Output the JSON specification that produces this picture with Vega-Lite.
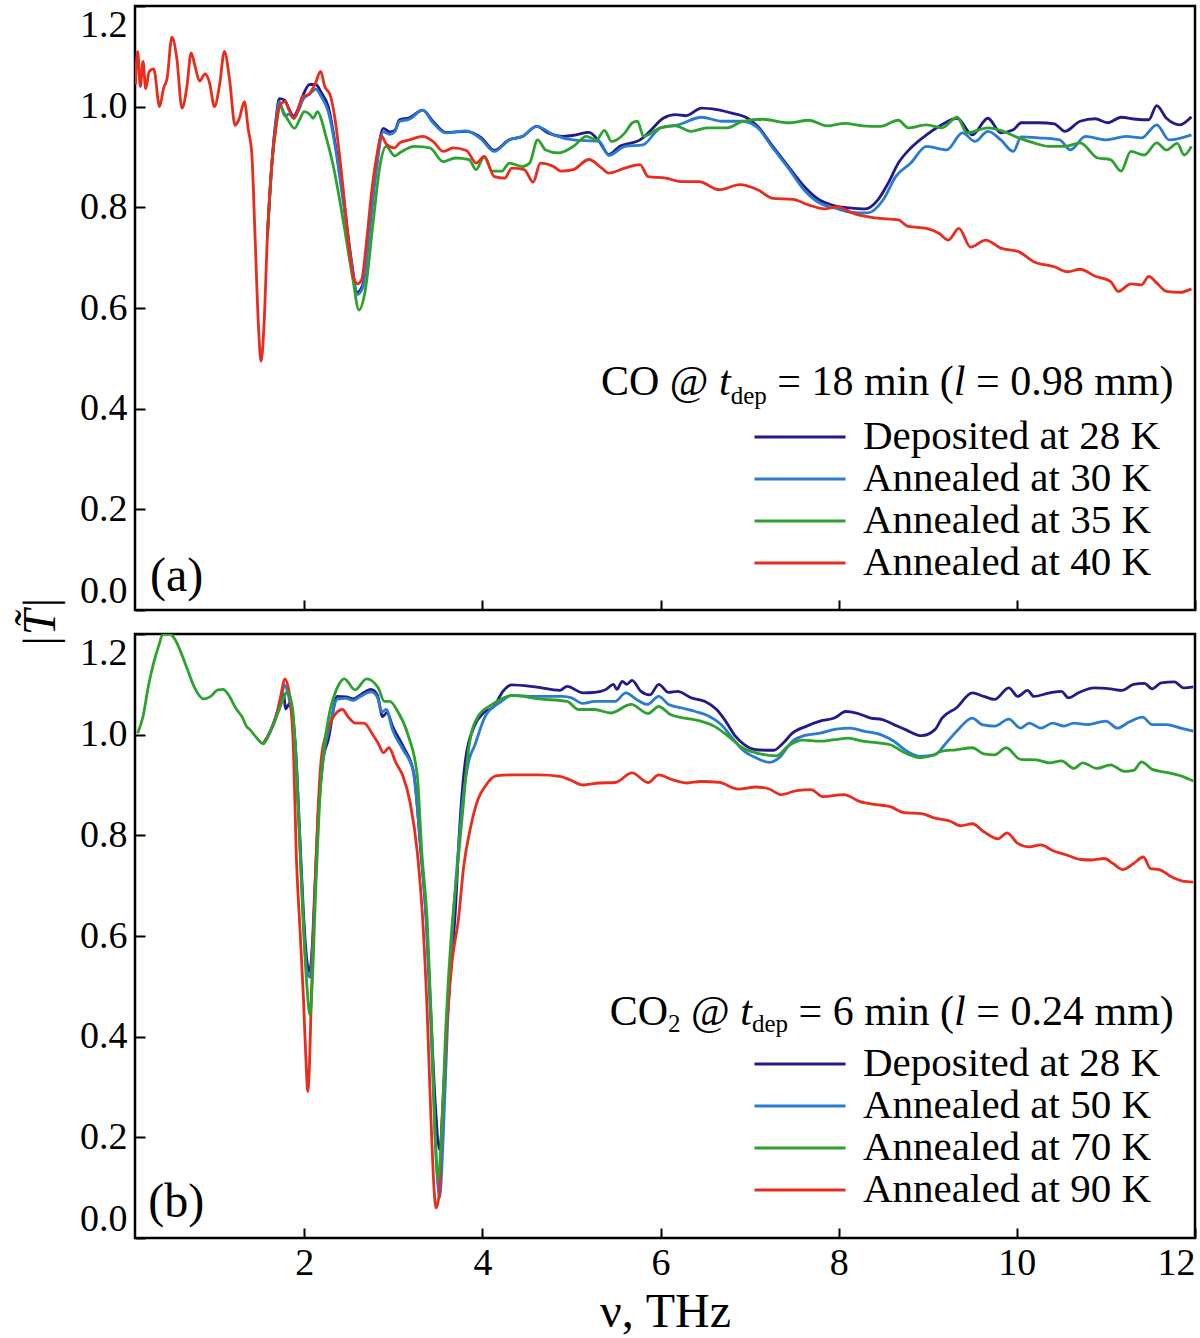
{
  "$schema": "https://vega.github.io/schema/vega-lite/v6.json",
  "padding": {"left": 15, "top": 3, "right": 4, "bottom": 0},
  "background": "white",
  "datasets": {
    "a28": [
      {"nu": 1.586, "T": 0.741}, {"nu": 1.635, "T": 0.883}, {"nu": 1.683, "T": 0.975}, {"nu": 1.72, "T": 1.016}, {"nu": 1.78, "T": 1.013}, {"nu": 1.83, "T": 0.995}, {"nu": 1.88, "T": 0.981}, {"nu": 1.93, "T": 0.995}, {"nu": 1.99, "T": 1.024}, {"nu": 2.06, "T": 1.044}, {"nu": 2.13, "T": 1.044}, {"nu": 2.19, "T": 1.028}, {"nu": 2.27, "T": 1.0}, {"nu": 2.344, "T": 0.93}, {"nu": 2.438, "T": 0.82}, {"nu": 2.53, "T": 0.694}, {"nu": 2.594, "T": 0.631}, {"nu": 2.655, "T": 0.645}, {"nu": 2.74, "T": 0.773}, {"nu": 2.81, "T": 0.883}, {"nu": 2.887, "T": 0.957}, {"nu": 2.96, "T": 0.95}, {"nu": 3.016, "T": 0.953}, {"nu": 3.07, "T": 0.974}, {"nu": 3.18, "T": 0.978}, {"nu": 3.33, "T": 0.993}, {"nu": 3.445, "T": 0.971}, {"nu": 3.587, "T": 0.949}, {"nu": 3.82, "T": 0.951}, {"nu": 3.99, "T": 0.938}, {"nu": 4.134, "T": 0.913}, {"nu": 4.3, "T": 0.934}, {"nu": 4.45, "T": 0.941}, {"nu": 4.61, "T": 0.961}, {"nu": 4.737, "T": 0.948}, {"nu": 4.91, "T": 0.941}, {"nu": 5.05, "T": 0.944}, {"nu": 5.196, "T": 0.949}, {"nu": 5.31, "T": 0.931}, {"nu": 5.42, "T": 0.905}, {"nu": 5.54, "T": 0.921}, {"nu": 5.77, "T": 0.934}, {"nu": 5.88, "T": 0.951}, {"nu": 6.03, "T": 0.977}, {"nu": 6.17, "T": 0.984}, {"nu": 6.285, "T": 0.982}, {"nu": 6.46, "T": 0.997}, {"nu": 6.63, "T": 0.994}, {"nu": 6.8, "T": 0.987}, {"nu": 6.976, "T": 0.977}, {"nu": 7.09, "T": 0.961}, {"nu": 7.26, "T": 0.921}, {"nu": 7.435, "T": 0.881}, {"nu": 7.61, "T": 0.842}, {"nu": 7.78, "T": 0.815}, {"nu": 7.955, "T": 0.803}, {"nu": 8.12, "T": 0.799}, {"nu": 8.3, "T": 0.797}, {"nu": 8.44, "T": 0.815}, {"nu": 8.555, "T": 0.848}, {"nu": 8.67, "T": 0.888}, {"nu": 8.81, "T": 0.918}, {"nu": 8.985, "T": 0.944}, {"nu": 9.13, "T": 0.961}, {"nu": 9.33, "T": 0.977}, {"nu": 9.5, "T": 0.944}, {"nu": 9.675, "T": 0.977}, {"nu": 9.82, "T": 0.948}, {"nu": 9.96, "T": 0.954}, {"nu": 10.05, "T": 0.968}, {"nu": 10.25, "T": 0.968}, {"nu": 10.42, "T": 0.966}, {"nu": 10.54, "T": 0.951}, {"nu": 10.71, "T": 0.971}, {"nu": 10.88, "T": 0.976}, {"nu": 11.02, "T": 0.968}, {"nu": 11.17, "T": 0.979}, {"nu": 11.34, "T": 0.975}, {"nu": 11.48, "T": 0.974}, {"nu": 11.57, "T": 1.002}, {"nu": 11.68, "T": 0.977}, {"nu": 11.83, "T": 0.964}, {"nu": 11.96, "T": 0.98}
    ],
    "a30": [
      {"nu": 1.586, "T": 0.741}, {"nu": 1.635, "T": 0.883}, {"nu": 1.683, "T": 0.97}, {"nu": 1.72, "T": 1.01}, {"nu": 1.78, "T": 0.982}, {"nu": 1.83, "T": 0.985}, {"nu": 1.88, "T": 0.977}, {"nu": 1.93, "T": 0.99}, {"nu": 1.99, "T": 1.015}, {"nu": 2.06, "T": 1.025}, {"nu": 2.13, "T": 1.035}, {"nu": 2.19, "T": 1.02}, {"nu": 2.27, "T": 0.99}, {"nu": 2.344, "T": 0.925}, {"nu": 2.438, "T": 0.81}, {"nu": 2.53, "T": 0.69}, {"nu": 2.594, "T": 0.627}, {"nu": 2.655, "T": 0.64}, {"nu": 2.74, "T": 0.765}, {"nu": 2.81, "T": 0.875}, {"nu": 2.887, "T": 0.95}, {"nu": 2.96, "T": 0.945}, {"nu": 3.016, "T": 0.95}, {"nu": 3.07, "T": 0.971}, {"nu": 3.18, "T": 0.975}, {"nu": 3.33, "T": 0.993}, {"nu": 3.445, "T": 0.968}, {"nu": 3.587, "T": 0.948}, {"nu": 3.82, "T": 0.952}, {"nu": 3.99, "T": 0.935}, {"nu": 4.134, "T": 0.911}, {"nu": 4.3, "T": 0.934}, {"nu": 4.45, "T": 0.941}, {"nu": 4.61, "T": 0.961}, {"nu": 4.8, "T": 0.944}, {"nu": 5.02, "T": 0.934}, {"nu": 5.31, "T": 0.931}, {"nu": 5.42, "T": 0.903}, {"nu": 5.6, "T": 0.921}, {"nu": 5.8, "T": 0.924}, {"nu": 6.0, "T": 0.958}, {"nu": 6.2, "T": 0.964}, {"nu": 6.46, "T": 0.979}, {"nu": 6.69, "T": 0.971}, {"nu": 6.92, "T": 0.971}, {"nu": 7.09, "T": 0.958}, {"nu": 7.26, "T": 0.918}, {"nu": 7.435, "T": 0.878}, {"nu": 7.61, "T": 0.835}, {"nu": 7.78, "T": 0.809}, {"nu": 7.955, "T": 0.799}, {"nu": 8.15, "T": 0.79}, {"nu": 8.33, "T": 0.789}, {"nu": 8.5, "T": 0.815}, {"nu": 8.64, "T": 0.861}, {"nu": 8.81, "T": 0.888}, {"nu": 8.985, "T": 0.921}, {"nu": 9.21, "T": 0.914}, {"nu": 9.39, "T": 0.948}, {"nu": 9.53, "T": 0.931}, {"nu": 9.675, "T": 0.951}, {"nu": 9.82, "T": 0.934}, {"nu": 9.96, "T": 0.911}, {"nu": 10.05, "T": 0.94}, {"nu": 10.25, "T": 0.938}, {"nu": 10.48, "T": 0.934}, {"nu": 10.6, "T": 0.914}, {"nu": 10.77, "T": 0.941}, {"nu": 11.0, "T": 0.934}, {"nu": 11.23, "T": 0.941}, {"nu": 11.4, "T": 0.938}, {"nu": 11.57, "T": 0.964}, {"nu": 11.71, "T": 0.934}, {"nu": 11.96, "T": 0.944}
    ],
    "a35": [
      {"nu": 1.586, "T": 0.741}, {"nu": 1.635, "T": 0.883}, {"nu": 1.683, "T": 0.96}, {"nu": 1.73, "T": 1.0}, {"nu": 1.78, "T": 0.985}, {"nu": 1.83, "T": 0.97}, {"nu": 1.89, "T": 0.957}, {"nu": 1.95, "T": 0.975}, {"nu": 2.0, "T": 0.99}, {"nu": 2.06, "T": 0.985}, {"nu": 2.1, "T": 0.977}, {"nu": 2.15, "T": 0.99}, {"nu": 2.2, "T": 0.97}, {"nu": 2.23, "T": 0.95}, {"nu": 2.325, "T": 0.883}, {"nu": 2.438, "T": 0.773}, {"nu": 2.546, "T": 0.657}, {"nu": 2.614, "T": 0.596}, {"nu": 2.68, "T": 0.63}, {"nu": 2.775, "T": 0.773}, {"nu": 2.85, "T": 0.883}, {"nu": 2.92, "T": 0.921}, {"nu": 3.016, "T": 0.902}, {"nu": 3.07, "T": 0.908}, {"nu": 3.24, "T": 0.921}, {"nu": 3.41, "T": 0.918}, {"nu": 3.56, "T": 0.891}, {"nu": 3.7, "T": 0.898}, {"nu": 3.85, "T": 0.895}, {"nu": 3.93, "T": 0.875}, {"nu": 4.02, "T": 0.901}, {"nu": 4.11, "T": 0.872}, {"nu": 4.22, "T": 0.872}, {"nu": 4.3, "T": 0.888}, {"nu": 4.45, "T": 0.881}, {"nu": 4.53, "T": 0.888}, {"nu": 4.62, "T": 0.934}, {"nu": 4.71, "T": 0.914}, {"nu": 4.855, "T": 0.908}, {"nu": 5.02, "T": 0.921}, {"nu": 5.17, "T": 0.941}, {"nu": 5.28, "T": 0.934}, {"nu": 5.37, "T": 0.953}, {"nu": 5.45, "T": 0.931}, {"nu": 5.6, "T": 0.948}, {"nu": 5.685, "T": 0.968}, {"nu": 5.74, "T": 0.971}, {"nu": 5.81, "T": 0.941}, {"nu": 6.0, "T": 0.958}, {"nu": 6.17, "T": 0.962}, {"nu": 6.34, "T": 0.951}, {"nu": 6.52, "T": 0.958}, {"nu": 6.75, "T": 0.958}, {"nu": 6.92, "T": 0.971}, {"nu": 7.15, "T": 0.975}, {"nu": 7.435, "T": 0.968}, {"nu": 7.665, "T": 0.973}, {"nu": 7.87, "T": 0.962}, {"nu": 8.07, "T": 0.967}, {"nu": 8.27, "T": 0.962}, {"nu": 8.47, "T": 0.961}, {"nu": 8.67, "T": 0.973}, {"nu": 8.78, "T": 0.958}, {"nu": 8.985, "T": 0.964}, {"nu": 9.16, "T": 0.958}, {"nu": 9.33, "T": 0.979}, {"nu": 9.44, "T": 0.948}, {"nu": 9.675, "T": 0.958}, {"nu": 9.85, "T": 0.951}, {"nu": 10.02, "T": 0.938}, {"nu": 10.19, "T": 0.928}, {"nu": 10.36, "T": 0.921}, {"nu": 10.54, "T": 0.921}, {"nu": 10.71, "T": 0.928}, {"nu": 10.91, "T": 0.898}, {"nu": 11.05, "T": 0.895}, {"nu": 11.17, "T": 0.872}, {"nu": 11.28, "T": 0.911}, {"nu": 11.43, "T": 0.904}, {"nu": 11.57, "T": 0.928}, {"nu": 11.68, "T": 0.914}, {"nu": 11.8, "T": 0.927}, {"nu": 11.88, "T": 0.904}, {"nu": 11.96, "T": 0.921}
    ],
    "a40": [
      {"nu": 0.105, "T": 1.044}, {"nu": 0.13, "T": 1.11}, {"nu": 0.16, "T": 1.04}, {"nu": 0.19, "T": 1.09}, {"nu": 0.22, "T": 1.036}, {"nu": 0.26, "T": 1.07}, {"nu": 0.31, "T": 1.075}, {"nu": 0.376, "T": 1.0}, {"nu": 0.42, "T": 1.036}, {"nu": 0.46, "T": 1.056}, {"nu": 0.515, "T": 1.138}, {"nu": 0.57, "T": 1.095}, {"nu": 0.627, "T": 0.997}, {"nu": 0.683, "T": 1.04}, {"nu": 0.73, "T": 1.107}, {"nu": 0.776, "T": 1.079}, {"nu": 0.824, "T": 1.051}, {"nu": 0.888, "T": 1.065}, {"nu": 0.936, "T": 1.048}, {"nu": 0.992, "T": 1.0}, {"nu": 1.05, "T": 1.044}, {"nu": 1.104, "T": 1.11}, {"nu": 1.16, "T": 1.056}, {"nu": 1.224, "T": 0.963}, {"nu": 1.272, "T": 0.977}, {"nu": 1.328, "T": 1.01}, {"nu": 1.373, "T": 0.953}, {"nu": 1.41, "T": 0.91}, {"nu": 1.448, "T": 0.741}, {"nu": 1.485, "T": 0.568}, {"nu": 1.515, "T": 0.494}, {"nu": 1.549, "T": 0.568}, {"nu": 1.586, "T": 0.741}, {"nu": 1.635, "T": 0.883}, {"nu": 1.683, "T": 0.961}, {"nu": 1.728, "T": 1.004}, {"nu": 1.784, "T": 1.01}, {"nu": 1.83, "T": 0.993}, {"nu": 1.885, "T": 0.977}, {"nu": 1.93, "T": 0.993}, {"nu": 1.98, "T": 1.02}, {"nu": 2.045, "T": 1.024}, {"nu": 2.12, "T": 1.044}, {"nu": 2.184, "T": 1.07}, {"nu": 2.23, "T": 1.04}, {"nu": 2.29, "T": 1.024}, {"nu": 2.344, "T": 0.977}, {"nu": 2.4, "T": 0.898}, {"nu": 2.456, "T": 0.804}, {"nu": 2.51, "T": 0.71}, {"nu": 2.557, "T": 0.659}, {"nu": 2.598, "T": 0.648}, {"nu": 2.643, "T": 0.655}, {"nu": 2.7, "T": 0.733}, {"nu": 2.755, "T": 0.828}, {"nu": 2.81, "T": 0.898}, {"nu": 2.867, "T": 0.942}, {"nu": 2.92, "T": 0.926}, {"nu": 3.016, "T": 0.918}, {"nu": 3.07, "T": 0.928}, {"nu": 3.18, "T": 0.934}, {"nu": 3.33, "T": 0.941}, {"nu": 3.445, "T": 0.931}, {"nu": 3.56, "T": 0.911}, {"nu": 3.67, "T": 0.918}, {"nu": 3.82, "T": 0.913}, {"nu": 3.93, "T": 0.888}, {"nu": 4.02, "T": 0.901}, {"nu": 4.134, "T": 0.861}, {"nu": 4.25, "T": 0.858}, {"nu": 4.33, "T": 0.878}, {"nu": 4.47, "T": 0.875}, {"nu": 4.57, "T": 0.85}, {"nu": 4.65, "T": 0.888}, {"nu": 4.8, "T": 0.881}, {"nu": 4.88, "T": 0.872}, {"nu": 5.02, "T": 0.875}, {"nu": 5.196, "T": 0.895}, {"nu": 5.34, "T": 0.878}, {"nu": 5.42, "T": 0.868}, {"nu": 5.6, "T": 0.878}, {"nu": 5.77, "T": 0.885}, {"nu": 5.86, "T": 0.861}, {"nu": 6.06, "T": 0.858}, {"nu": 6.23, "T": 0.851}, {"nu": 6.43, "T": 0.851}, {"nu": 6.66, "T": 0.835}, {"nu": 6.89, "T": 0.845}, {"nu": 7.09, "T": 0.835}, {"nu": 7.26, "T": 0.818}, {"nu": 7.49, "T": 0.816}, {"nu": 7.66, "T": 0.805}, {"nu": 7.84, "T": 0.797}, {"nu": 7.98, "T": 0.801}, {"nu": 8.18, "T": 0.787}, {"nu": 8.41, "T": 0.779}, {"nu": 8.67, "T": 0.775}, {"nu": 8.78, "T": 0.762}, {"nu": 8.985, "T": 0.758}, {"nu": 9.13, "T": 0.748}, {"nu": 9.23, "T": 0.735}, {"nu": 9.35, "T": 0.758}, {"nu": 9.48, "T": 0.721}, {"nu": 9.65, "T": 0.735}, {"nu": 9.82, "T": 0.719}, {"nu": 10.02, "T": 0.712}, {"nu": 10.19, "T": 0.692}, {"nu": 10.42, "T": 0.682}, {"nu": 10.57, "T": 0.672}, {"nu": 10.71, "T": 0.677}, {"nu": 10.88, "T": 0.663}, {"nu": 11.05, "T": 0.653}, {"nu": 11.14, "T": 0.633}, {"nu": 11.28, "T": 0.648}, {"nu": 11.4, "T": 0.646}, {"nu": 11.48, "T": 0.663}, {"nu": 11.57, "T": 0.65}, {"nu": 11.68, "T": 0.633}, {"nu": 11.83, "T": 0.631}, {"nu": 11.96, "T": 0.638}
    ],
    "b28": [
      {"nu": 1.54, "T": 0.982}, {"nu": 1.61, "T": 1.003}, {"nu": 1.69, "T": 1.04}, {"nu": 1.74, "T": 1.07}, {"nu": 1.77, "T": 1.08}, {"nu": 1.79, "T": 1.051}, {"nu": 1.84, "T": 1.063}, {"nu": 1.9, "T": 0.98}, {"nu": 1.95, "T": 0.8}, {"nu": 1.99, "T": 0.65}, {"nu": 2.03, "T": 0.55}, {"nu": 2.06, "T": 0.529}, {"nu": 2.09, "T": 0.58}, {"nu": 2.12, "T": 0.7}, {"nu": 2.16, "T": 0.85}, {"nu": 2.21, "T": 0.95}, {"nu": 2.27, "T": 0.99}, {"nu": 2.37, "T": 1.076}, {"nu": 2.47, "T": 1.075}, {"nu": 2.55, "T": 1.071}, {"nu": 2.63, "T": 1.079}, {"nu": 2.75, "T": 1.09}, {"nu": 2.82, "T": 1.079}, {"nu": 2.88, "T": 1.036}, {"nu": 2.93, "T": 1.044}, {"nu": 2.99, "T": 1.017}, {"nu": 3.11, "T": 0.977}, {"nu": 3.23, "T": 0.924}, {"nu": 3.31, "T": 0.765}, {"nu": 3.37, "T": 0.632}, {"nu": 3.42, "T": 0.45}, {"nu": 3.47, "T": 0.27}, {"nu": 3.52, "T": 0.175}, {"nu": 3.56, "T": 0.27}, {"nu": 3.6, "T": 0.42}, {"nu": 3.65, "T": 0.55}, {"nu": 3.69, "T": 0.632}, {"nu": 3.75, "T": 0.831}, {"nu": 3.81, "T": 0.95}, {"nu": 3.91, "T": 1.017}, {"nu": 4.01, "T": 1.043}, {"nu": 4.13, "T": 1.056}, {"nu": 4.23, "T": 1.086}, {"nu": 4.33, "T": 1.099}, {"nu": 4.59, "T": 1.095}, {"nu": 4.87, "T": 1.088}, {"nu": 4.95, "T": 1.096}, {"nu": 5.13, "T": 1.083}, {"nu": 5.26, "T": 1.084}, {"nu": 5.39, "T": 1.09}, {"nu": 5.47, "T": 1.1}, {"nu": 5.51, "T": 1.09}, {"nu": 5.57, "T": 1.106}, {"nu": 5.62, "T": 1.1}, {"nu": 5.68, "T": 1.108}, {"nu": 5.78, "T": 1.086}, {"nu": 5.88, "T": 1.079}, {"nu": 5.98, "T": 1.1}, {"nu": 6.09, "T": 1.084}, {"nu": 6.19, "T": 1.086}, {"nu": 6.345, "T": 1.073}, {"nu": 6.5, "T": 1.066}, {"nu": 6.63, "T": 1.05}, {"nu": 6.73, "T": 1.027}, {"nu": 6.84, "T": 0.997}, {"nu": 6.94, "T": 0.98}, {"nu": 7.07, "T": 0.97}, {"nu": 7.27, "T": 0.969}, {"nu": 7.38, "T": 0.984}, {"nu": 7.48, "T": 1.003}, {"nu": 7.64, "T": 1.017}, {"nu": 7.79, "T": 1.027}, {"nu": 7.95, "T": 1.033}, {"nu": 8.08, "T": 1.046}, {"nu": 8.2, "T": 1.043}, {"nu": 8.36, "T": 1.033}, {"nu": 8.49, "T": 1.03}, {"nu": 8.62, "T": 1.02}, {"nu": 8.75, "T": 1.01}, {"nu": 8.93, "T": 0.998}, {"nu": 9.08, "T": 1.01}, {"nu": 9.16, "T": 1.033}, {"nu": 9.32, "T": 1.053}, {"nu": 9.5, "T": 1.083}, {"nu": 9.63, "T": 1.076}, {"nu": 9.75, "T": 1.07}, {"nu": 9.91, "T": 1.093}, {"nu": 10.01, "T": 1.076}, {"nu": 10.12, "T": 1.088}, {"nu": 10.19, "T": 1.076}, {"nu": 10.37, "T": 1.083}, {"nu": 10.5, "T": 1.086}, {"nu": 10.58, "T": 1.073}, {"nu": 10.69, "T": 1.083}, {"nu": 10.87, "T": 1.093}, {"nu": 11.05, "T": 1.091}, {"nu": 11.18, "T": 1.088}, {"nu": 11.31, "T": 1.1}, {"nu": 11.43, "T": 1.102}, {"nu": 11.52, "T": 1.091}, {"nu": 11.62, "T": 1.103}, {"nu": 11.77, "T": 1.105}, {"nu": 11.87, "T": 1.093}, {"nu": 11.98, "T": 1.095}
    ],
    "b50": [
      {"nu": 1.54, "T": 0.982}, {"nu": 1.61, "T": 1.003}, {"nu": 1.69, "T": 1.04}, {"nu": 1.75, "T": 1.08}, {"nu": 1.78, "T": 1.099}, {"nu": 1.82, "T": 1.08}, {"nu": 1.86, "T": 1.04}, {"nu": 1.9, "T": 0.98}, {"nu": 1.95, "T": 0.79}, {"nu": 1.99, "T": 0.63}, {"nu": 2.03, "T": 0.53}, {"nu": 2.065, "T": 0.518}, {"nu": 2.1, "T": 0.6}, {"nu": 2.13, "T": 0.72}, {"nu": 2.17, "T": 0.87}, {"nu": 2.22, "T": 0.96}, {"nu": 2.29, "T": 1.02}, {"nu": 2.37, "T": 1.07}, {"nu": 2.47, "T": 1.072}, {"nu": 2.55, "T": 1.068}, {"nu": 2.63, "T": 1.076}, {"nu": 2.75, "T": 1.085}, {"nu": 2.82, "T": 1.075}, {"nu": 2.87, "T": 1.045}, {"nu": 2.92, "T": 1.05}, {"nu": 2.99, "T": 1.01}, {"nu": 3.11, "T": 0.97}, {"nu": 3.22, "T": 0.93}, {"nu": 3.31, "T": 0.77}, {"nu": 3.37, "T": 0.63}, {"nu": 3.42, "T": 0.43}, {"nu": 3.47, "T": 0.2}, {"nu": 3.52, "T": 0.08}, {"nu": 3.56, "T": 0.2}, {"nu": 3.61, "T": 0.43}, {"nu": 3.66, "T": 0.6}, {"nu": 3.72, "T": 0.75}, {"nu": 3.78, "T": 0.87}, {"nu": 3.85, "T": 0.95}, {"nu": 3.91, "T": 0.977}, {"nu": 4.03, "T": 1.036}, {"nu": 4.19, "T": 1.063}, {"nu": 4.33, "T": 1.078}, {"nu": 4.59, "T": 1.076}, {"nu": 4.9, "T": 1.076}, {"nu": 5.0, "T": 1.073}, {"nu": 5.13, "T": 1.062}, {"nu": 5.26, "T": 1.066}, {"nu": 5.49, "T": 1.066}, {"nu": 5.61, "T": 1.083}, {"nu": 5.73, "T": 1.07}, {"nu": 5.85, "T": 1.06}, {"nu": 5.98, "T": 1.076}, {"nu": 6.09, "T": 1.06}, {"nu": 6.24, "T": 1.053}, {"nu": 6.39, "T": 1.046}, {"nu": 6.55, "T": 1.036}, {"nu": 6.68, "T": 1.02}, {"nu": 6.79, "T": 0.997}, {"nu": 6.92, "T": 0.97}, {"nu": 7.07, "T": 0.954}, {"nu": 7.22, "T": 0.945}, {"nu": 7.33, "T": 0.954}, {"nu": 7.48, "T": 0.987}, {"nu": 7.61, "T": 0.998}, {"nu": 7.79, "T": 1.003}, {"nu": 7.97, "T": 1.011}, {"nu": 8.13, "T": 1.013}, {"nu": 8.28, "T": 1.007}, {"nu": 8.47, "T": 1.0}, {"nu": 8.62, "T": 0.987}, {"nu": 8.75, "T": 0.969}, {"nu": 8.91, "T": 0.957}, {"nu": 9.08, "T": 0.96}, {"nu": 9.19, "T": 0.98}, {"nu": 9.34, "T": 1.01}, {"nu": 9.5, "T": 1.033}, {"nu": 9.61, "T": 1.02}, {"nu": 9.75, "T": 1.017}, {"nu": 9.91, "T": 1.031}, {"nu": 10.04, "T": 1.013}, {"nu": 10.14, "T": 1.023}, {"nu": 10.27, "T": 1.013}, {"nu": 10.4, "T": 1.023}, {"nu": 10.53, "T": 1.017}, {"nu": 10.64, "T": 1.023}, {"nu": 10.79, "T": 1.02}, {"nu": 11.0, "T": 1.027}, {"nu": 11.13, "T": 1.013}, {"nu": 11.26, "T": 1.025}, {"nu": 11.41, "T": 1.035}, {"nu": 11.52, "T": 1.02}, {"nu": 11.68, "T": 1.02}, {"nu": 11.84, "T": 1.013}, {"nu": 11.98, "T": 1.007}
    ],
    "b70": [
      {"nu": 0.13, "T": 1.003}, {"nu": 0.19, "T": 1.036}, {"nu": 0.25, "T": 1.096}, {"nu": 0.31, "T": 1.143}, {"nu": 0.37, "T": 1.179}, {"nu": 0.41, "T": 1.199}, {"nu": 0.49, "T": 1.2}, {"nu": 0.55, "T": 1.189}, {"nu": 0.61, "T": 1.166}, {"nu": 0.69, "T": 1.129}, {"nu": 0.77, "T": 1.093}, {"nu": 0.87, "T": 1.071}, {"nu": 0.95, "T": 1.076}, {"nu": 1.03, "T": 1.089}, {"nu": 1.09, "T": 1.09}, {"nu": 1.15, "T": 1.079}, {"nu": 1.23, "T": 1.053}, {"nu": 1.31, "T": 1.033}, {"nu": 1.35, "T": 1.017}, {"nu": 1.39, "T": 1.01}, {"nu": 1.45, "T": 0.997}, {"nu": 1.54, "T": 0.982}, {"nu": 1.61, "T": 1.003}, {"nu": 1.69, "T": 1.036}, {"nu": 1.77, "T": 1.073}, {"nu": 1.81, "T": 1.086}, {"nu": 1.87, "T": 1.05}, {"nu": 1.91, "T": 0.93}, {"nu": 1.95, "T": 0.78}, {"nu": 1.99, "T": 0.62}, {"nu": 2.03, "T": 0.5}, {"nu": 2.065, "T": 0.443}, {"nu": 2.1, "T": 0.55}, {"nu": 2.13, "T": 0.7}, {"nu": 2.17, "T": 0.86}, {"nu": 2.22, "T": 0.97}, {"nu": 2.28, "T": 1.04}, {"nu": 2.37, "T": 1.093}, {"nu": 2.45, "T": 1.111}, {"nu": 2.57, "T": 1.089}, {"nu": 2.7, "T": 1.111}, {"nu": 2.83, "T": 1.093}, {"nu": 2.9, "T": 1.066}, {"nu": 2.96, "T": 1.066}, {"nu": 3.05, "T": 1.046}, {"nu": 3.17, "T": 0.997}, {"nu": 3.27, "T": 0.917}, {"nu": 3.32, "T": 0.765}, {"nu": 3.38, "T": 0.632}, {"nu": 3.43, "T": 0.42}, {"nu": 3.47, "T": 0.2}, {"nu": 3.5, "T": 0.117}, {"nu": 3.54, "T": 0.2}, {"nu": 3.59, "T": 0.42}, {"nu": 3.65, "T": 0.6}, {"nu": 3.7, "T": 0.7}, {"nu": 3.77, "T": 0.831}, {"nu": 3.85, "T": 0.977}, {"nu": 3.95, "T": 1.036}, {"nu": 4.11, "T": 1.06}, {"nu": 4.33, "T": 1.078}, {"nu": 4.64, "T": 1.071}, {"nu": 4.95, "T": 1.066}, {"nu": 5.08, "T": 1.05}, {"nu": 5.26, "T": 1.05}, {"nu": 5.44, "T": 1.043}, {"nu": 5.67, "T": 1.06}, {"nu": 5.86, "T": 1.042}, {"nu": 5.98, "T": 1.056}, {"nu": 6.11, "T": 1.04}, {"nu": 6.27, "T": 1.033}, {"nu": 6.45, "T": 1.027}, {"nu": 6.6, "T": 1.017}, {"nu": 6.76, "T": 0.997}, {"nu": 6.92, "T": 0.974}, {"nu": 7.07, "T": 0.964}, {"nu": 7.3, "T": 0.958}, {"nu": 7.43, "T": 0.977}, {"nu": 7.59, "T": 0.989}, {"nu": 7.79, "T": 0.987}, {"nu": 7.95, "T": 0.99}, {"nu": 8.11, "T": 0.993}, {"nu": 8.27, "T": 0.987}, {"nu": 8.42, "T": 0.984}, {"nu": 8.58, "T": 0.98}, {"nu": 8.71, "T": 0.967}, {"nu": 8.91, "T": 0.954}, {"nu": 9.07, "T": 0.96}, {"nu": 9.15, "T": 0.967}, {"nu": 9.32, "T": 0.97}, {"nu": 9.5, "T": 0.974}, {"nu": 9.63, "T": 0.962}, {"nu": 9.75, "T": 0.96}, {"nu": 9.88, "T": 0.974}, {"nu": 10.04, "T": 0.951}, {"nu": 10.22, "T": 0.95}, {"nu": 10.37, "T": 0.944}, {"nu": 10.5, "T": 0.948}, {"nu": 10.64, "T": 0.933}, {"nu": 10.74, "T": 0.944}, {"nu": 10.9, "T": 0.933}, {"nu": 11.05, "T": 0.94}, {"nu": 11.21, "T": 0.927}, {"nu": 11.31, "T": 0.929}, {"nu": 11.4, "T": 0.946}, {"nu": 11.52, "T": 0.931}, {"nu": 11.68, "T": 0.925}, {"nu": 11.84, "T": 0.918}, {"nu": 11.98, "T": 0.908}
    ],
    "b90": [
      {"nu": 1.54, "T": 0.982}, {"nu": 1.61, "T": 1.003}, {"nu": 1.69, "T": 1.04}, {"nu": 1.74, "T": 1.08}, {"nu": 1.78, "T": 1.111}, {"nu": 1.83, "T": 1.086}, {"nu": 1.88, "T": 0.964}, {"nu": 1.91, "T": 0.765}, {"nu": 1.95, "T": 0.62}, {"nu": 1.99, "T": 0.48}, {"nu": 2.02, "T": 0.35}, {"nu": 2.04, "T": 0.291}, {"nu": 2.06, "T": 0.35}, {"nu": 2.08, "T": 0.48}, {"nu": 2.11, "T": 0.632}, {"nu": 2.15, "T": 0.831}, {"nu": 2.19, "T": 0.95}, {"nu": 2.25, "T": 1.004}, {"nu": 2.33, "T": 1.036}, {"nu": 2.43, "T": 1.05}, {"nu": 2.49, "T": 1.036}, {"nu": 2.57, "T": 1.023}, {"nu": 2.67, "T": 1.023}, {"nu": 2.77, "T": 1.0}, {"nu": 2.83, "T": 0.983}, {"nu": 2.89, "T": 0.964}, {"nu": 2.95, "T": 0.974}, {"nu": 3.03, "T": 0.944}, {"nu": 3.11, "T": 0.917}, {"nu": 3.19, "T": 0.864}, {"nu": 3.27, "T": 0.765}, {"nu": 3.33, "T": 0.632}, {"nu": 3.38, "T": 0.45}, {"nu": 3.42, "T": 0.25}, {"nu": 3.46, "T": 0.09}, {"nu": 3.48, "T": 0.06}, {"nu": 3.51, "T": 0.08}, {"nu": 3.55, "T": 0.25}, {"nu": 3.6, "T": 0.42}, {"nu": 3.66, "T": 0.55}, {"nu": 3.73, "T": 0.632}, {"nu": 3.79, "T": 0.738}, {"nu": 3.87, "T": 0.818}, {"nu": 3.95, "T": 0.871}, {"nu": 4.03, "T": 0.897}, {"nu": 4.15, "T": 0.918}, {"nu": 4.33, "T": 0.92}, {"nu": 4.64, "T": 0.92}, {"nu": 4.87, "T": 0.917}, {"nu": 5.0, "T": 0.909}, {"nu": 5.13, "T": 0.9}, {"nu": 5.31, "T": 0.904}, {"nu": 5.49, "T": 0.905}, {"nu": 5.68, "T": 0.924}, {"nu": 5.86, "T": 0.905}, {"nu": 5.98, "T": 0.92}, {"nu": 6.14, "T": 0.91}, {"nu": 6.3, "T": 0.904}, {"nu": 6.45, "T": 0.907}, {"nu": 6.66, "T": 0.905}, {"nu": 6.87, "T": 0.892}, {"nu": 7.07, "T": 0.896}, {"nu": 7.22, "T": 0.892}, {"nu": 7.35, "T": 0.881}, {"nu": 7.53, "T": 0.889}, {"nu": 7.69, "T": 0.891}, {"nu": 7.82, "T": 0.877}, {"nu": 8.06, "T": 0.881}, {"nu": 8.24, "T": 0.867}, {"nu": 8.42, "T": 0.861}, {"nu": 8.58, "T": 0.857}, {"nu": 8.73, "T": 0.845}, {"nu": 8.93, "T": 0.843}, {"nu": 9.08, "T": 0.834}, {"nu": 9.24, "T": 0.829}, {"nu": 9.37, "T": 0.819}, {"nu": 9.5, "T": 0.823}, {"nu": 9.63, "T": 0.807}, {"nu": 9.79, "T": 0.793}, {"nu": 9.89, "T": 0.805}, {"nu": 10.01, "T": 0.784}, {"nu": 10.14, "T": 0.777}, {"nu": 10.27, "T": 0.781}, {"nu": 10.4, "T": 0.77}, {"nu": 10.56, "T": 0.761}, {"nu": 10.72, "T": 0.752}, {"nu": 10.85, "T": 0.751}, {"nu": 10.98, "T": 0.754}, {"nu": 11.08, "T": 0.744}, {"nu": 11.19, "T": 0.732}, {"nu": 11.31, "T": 0.744}, {"nu": 11.42, "T": 0.757}, {"nu": 11.5, "T": 0.734}, {"nu": 11.6, "T": 0.732}, {"nu": 11.73, "T": 0.718}, {"nu": 11.86, "T": 0.709}, {"nu": 11.98, "T": 0.707}
    ]
  },
  "vconcat": [
    {
      "width": 1060,
      "height": 604,
      "layer": [
        {
          "data": {"name": "a28"},
          "mark": {"type": "line", "strokeWidth": 2.8, "clip": true, "interpolate": "monotone"},
          "encoding": {
            "x": {"field": "nu", "type": "quantitative", "scale": {"domain": [0.1, 12], "nice": false, "zero": false},
                  "axis": {"values": [2, 4, 6, 8, 10, 12], "format": "d", "labels": false, "title": null}},
            "y": {"field": "T", "type": "quantitative", "scale": {"domain": [0, 1.2], "nice": false},
                  "axis": {"values": [0, 0.2, 0.4, 0.6, 0.8, 1.0, 1.2], "format": ".1f",
                           "title": "|T\u0303|", "titleFontSize": 46, "titleFontStyle": "italic",
                           "titleAngle": 270, "titleX": -95, "titleY": 616, "titleAlign": "center", "titleBaseline": "middle"}},
            "color": {"datum": "Deposited at 28 K", "type": "nominal",
                      "scale": {"domain": ["Deposited at 28 K", "Annealed at 30 K", "Annealed at 35 K", "Annealed at 40 K"],
                                "range": ["#231b8a", "#2a7cd0", "#2ea22e", "#eb2b1c"]},
                      "legend": {"orient": "none", "legendX": 618, "legendY": 411, "title": null}}
          }
        },
        {
          "data": {"name": "a30"},
          "mark": {"type": "line", "strokeWidth": 2.8, "clip": true, "interpolate": "monotone"},
          "encoding": {"x": {"field": "nu", "type": "quantitative"}, "y": {"field": "T", "type": "quantitative"},
                       "color": {"datum": "Annealed at 30 K", "type": "nominal"}}
        },
        {
          "data": {"name": "a35"},
          "mark": {"type": "line", "strokeWidth": 2.8, "clip": true, "interpolate": "monotone"},
          "encoding": {"x": {"field": "nu", "type": "quantitative"}, "y": {"field": "T", "type": "quantitative"},
                       "color": {"datum": "Annealed at 35 K", "type": "nominal"}}
        },
        {
          "data": {"name": "a40"},
          "mark": {"type": "line", "strokeWidth": 2.8, "clip": true, "interpolate": "monotone"},
          "encoding": {"x": {"field": "nu", "type": "quantitative"}, "y": {"field": "T", "type": "quantitative"},
                       "color": {"datum": "Annealed at 40 K", "type": "nominal"}}
        },
        {
          "data": {"values": [{"label": "(a)"}]},
          "mark": {"type": "text", "fontSize": 48, "align": "left", "baseline": "middle"},
          "encoding": {"x": {"datum": 0.268}, "y": {"datum": 0.066}, "text": {"field": "label"}}
        },
        {
          "data": {"values": [{"label": "CO @"}]},
          "mark": {"type": "text", "fontSize": 42, "align": "left", "baseline": "middle"},
          "encoding": {"x": {"datum": 5.331}, "y": {"datum": 0.453}, "text": {"field": "label"}}
        },
        {
          "data": {"values": [{"label": "t"}]},
          "mark": {"type": "text", "fontSize": 42, "fontStyle": "italic", "align": "left", "baseline": "middle", "dx": 118},
          "encoding": {"x": {"datum": 5.331}, "y": {"datum": 0.453}, "text": {"field": "label"}}
        },
        {
          "data": {"values": [{"label": "dep"}]},
          "mark": {"type": "text", "fontSize": 25, "align": "left", "baseline": "middle", "dx": 129.7, "dy": 14},
          "encoding": {"x": {"datum": 5.331}, "y": {"datum": 0.453}, "text": {"field": "label"}}
        },
        {
          "data": {"values": [{"label": "= 18 min ("}]},
          "mark": {"type": "text", "fontSize": 42, "align": "left", "baseline": "middle", "dx": 176.3},
          "encoding": {"x": {"datum": 5.331}, "y": {"datum": 0.453}, "text": {"field": "label"}}
        },
        {
          "data": {"values": [{"label": "l"}]},
          "mark": {"type": "text", "fontSize": 42, "fontStyle": "italic", "align": "left", "baseline": "middle", "dx": 352.8},
          "encoding": {"x": {"datum": 5.331}, "y": {"datum": 0.453}, "text": {"field": "label"}}
        },
        {
          "data": {"values": [{"label": "= 0.98 mm)"}]},
          "mark": {"type": "text", "fontSize": 42, "align": "left", "baseline": "middle", "dx": 375},
          "encoding": {"x": {"datum": 5.331}, "y": {"datum": 0.453}, "text": {"field": "label"}}
        }
      ]
    },
    {
      "width": 1060,
      "height": 604,
      "layer": [
        {
          "data": {"name": "b28"},
          "mark": {"type": "line", "strokeWidth": 2.8, "clip": true, "interpolate": "monotone"},
          "encoding": {
            "x": {"field": "nu", "type": "quantitative", "scale": {"domain": [0.1, 12], "nice": false, "zero": false},
                  "axis": {"values": [2, 4, 6, 8, 10, 12], "format": "d", "title": "\u03bd, THz", "titleFontSize": 48, "titlePadding": 6}},
            "y": {"field": "T", "type": "quantitative", "scale": {"domain": [0, 1.2], "nice": false},
                  "axis": {"values": [0, 0.2, 0.4, 0.6, 0.8, 1.0, 1.2], "format": ".1f", "title": null}},
            "color": {"datum": "Deposited at 28 K", "type": "nominal",
                      "scale": {"domain": ["Deposited at 28 K", "Annealed at 50 K", "Annealed at 70 K", "Annealed at 90 K"],
                                "range": ["#231b8a", "#2a7cd0", "#2ea22e", "#eb2b1c"]},
                      "legend": {"orient": "none", "legendX": 618, "legendY": 410, "title": null}}
          }
        },
        {
          "data": {"name": "b50"},
          "mark": {"type": "line", "strokeWidth": 2.8, "clip": true, "interpolate": "monotone"},
          "encoding": {"x": {"field": "nu", "type": "quantitative"}, "y": {"field": "T", "type": "quantitative"},
                       "color": {"datum": "Annealed at 50 K", "type": "nominal"}}
        },
        {
          "data": {"name": "b90"},
          "mark": {"type": "line", "strokeWidth": 2.8, "clip": true, "interpolate": "monotone"},
          "encoding": {"x": {"field": "nu", "type": "quantitative"}, "y": {"field": "T", "type": "quantitative"},
                       "color": {"datum": "Annealed at 90 K", "type": "nominal"}}
        },
        {
          "data": {"name": "b70"},
          "mark": {"type": "line", "strokeWidth": 2.8, "clip": true, "interpolate": "monotone"},
          "encoding": {"x": {"field": "nu", "type": "quantitative"}, "y": {"field": "T", "type": "quantitative"},
                       "color": {"datum": "Annealed at 70 K", "type": "nominal"}}
        },
        {
          "data": {"values": [{"label": "(b)"}]},
          "mark": {"type": "text", "fontSize": 48, "align": "left", "baseline": "middle"},
          "encoding": {"x": {"datum": 0.25}, "y": {"datum": 0.0695}, "text": {"field": "label"}}
        },
        {
          "data": {"values": [{"label": "CO"}]},
          "mark": {"type": "text", "fontSize": 42, "align": "left", "baseline": "middle"},
          "encoding": {"x": {"datum": 5.43}, "y": {"datum": 0.4496}, "text": {"field": "label"}}
        },
        {
          "data": {"values": [{"label": "2"}]},
          "mark": {"type": "text", "fontSize": 25, "align": "left", "baseline": "middle", "dx": 58.3, "dy": 12},
          "encoding": {"x": {"datum": 5.43}, "y": {"datum": 0.4496}, "text": {"field": "label"}}
        },
        {
          "data": {"values": [{"label": "@"}]},
          "mark": {"type": "text", "fontSize": 42, "align": "left", "baseline": "middle", "dx": 81.3},
          "encoding": {"x": {"datum": 5.43}, "y": {"datum": 0.4496}, "text": {"field": "label"}}
        },
        {
          "data": {"values": [{"label": "t"}]},
          "mark": {"type": "text", "fontSize": 42, "fontStyle": "italic", "align": "left", "baseline": "middle", "dx": 130.5},
          "encoding": {"x": {"datum": 5.43}, "y": {"datum": 0.4496}, "text": {"field": "label"}}
        },
        {
          "data": {"values": [{"label": "dep"}]},
          "mark": {"type": "text", "fontSize": 25, "align": "left", "baseline": "middle", "dx": 142.2, "dy": 12},
          "encoding": {"x": {"datum": 5.43}, "y": {"datum": 0.4496}, "text": {"field": "label"}}
        },
        {
          "data": {"values": [{"label": "= 6 min ("}]},
          "mark": {"type": "text", "fontSize": 42, "align": "left", "baseline": "middle", "dx": 188.8},
          "encoding": {"x": {"datum": 5.43}, "y": {"datum": 0.4496}, "text": {"field": "label"}}
        },
        {
          "data": {"values": [{"label": "l"}]},
          "mark": {"type": "text", "fontSize": 42, "fontStyle": "italic", "align": "left", "baseline": "middle", "dx": 344.3},
          "encoding": {"x": {"datum": 5.43}, "y": {"datum": 0.4496}, "text": {"field": "label"}}
        },
        {
          "data": {"values": [{"label": "= 0.24 mm)"}]},
          "mark": {"type": "text", "fontSize": 42, "align": "left", "baseline": "middle", "dx": 366.5},
          "encoding": {"x": {"datum": 5.43}, "y": {"datum": 0.4496}, "text": {"field": "label"}}
        }
      ]
    }
  ],
  "spacing": 24,
  "bounds": "flush",
  "resolve": {"scale": {"color": "independent"}, "legend": {"color": "independent"}},
  "config": {
    "font": "Liberation Serif",
    "view": {"stroke": "#000", "strokeWidth": 2.5},
    "text": {"font": "Liberation Serif", "color": "#000"},
    "axis": {
      "domain": false, "grid": false,
      "tickSize": -10, "tickWidth": 2, "tickColor": "#000",
      "labelFont": "Liberation Serif", "labelFontSize": 38, "labelColor": "#000", "labelFlush": true,
      "titleFont": "Liberation Serif", "titleColor": "#000", "titleFontWeight": "normal"
    },
    "axisY": {"labelPadding": 18},
    "axisX": {"labelPadding": 16},
    "legend": {
      "symbolType": "stroke", "symbolSize": 8281, "symbolStrokeWidth": 3,
      "labelFont": "Liberation Serif", "labelFontSize": 41, "labelColor": "#000", "labelLimit": 500,
      "labelOffset": 16, "clipHeight": 40, "rowPadding": 1, "padding": 0, "offset": 0
    }
  }
}
